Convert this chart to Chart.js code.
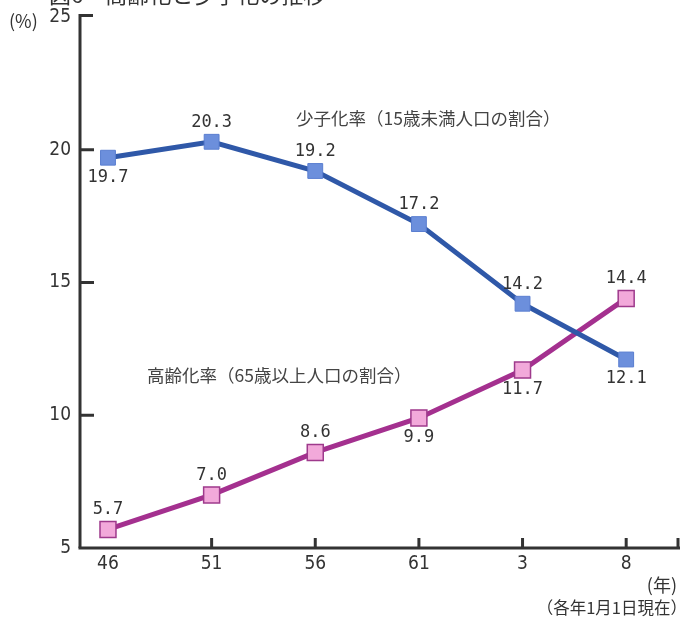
<!DOCTYPE html>
<html lang="ja">
<head>
<meta charset="utf-8">
<script src="https://cdn.jsdelivr.net/npm/chart.js@4.4.1/dist/chart.umd.min.js"></script>
<style>
  html, body { margin: 0; padding: 0; background: #fff; }
  #wrap { position: relative; width: 680px; height: 620px; }
</style>
</head>
<body>
<div id="wrap"><canvas id="c" width="680" height="620"></canvas></div>
<script>
// 年次（昭和46年〜平成8年）
const years = ['46', '51', '56', '61', '3', '8'];
// 少子化率（15歳未満人口の割合, %）
const childRate = [19.7, 20.3, 19.2, 17.2, 14.2, 12.1];
// 高齢化率（65歳以上人口の割合, %）
const elderRate = [5.7, 7.0, 8.6, 9.9, 11.7, 14.4];
// 縦軸目盛
const yTicks = [5, 10, 15, 20, 25];

const titleText = '図6・高齢化と少子化の推移';
const childLabel = '少子化率（15歳未満人口の割合）';
const elderLabel = '高齢化率（65歳以上人口の割合）';

// 値ラベルの上下配置
const childLabelPos = ['below', 'above', 'above', 'above', 'above', 'below'];
const elderLabelPos = ['above', 'above', 'above', 'below', 'below', 'above'];

const INK = '#333';
const NUM_FONT = '17px "DejaVu Sans Mono", "Liberation Mono", monospace';
const AXIS_FONT = { family: '"DejaVu Sans Condensed", "Liberation Sans Narrow", "Roboto", sans-serif', size: 19 };
const JP_FONT = '17.5px "Noto Sans CJK JP", sans-serif';

const toPts = arr => arr.map((v, i) => ({ x: i, y: v }));

// 軸線・内向き目盛・注記の描画
const decor = {
  id: 'decor',
  beforeDatasetsDraw(chart) {
    const { ctx, chartArea: a, scales: { x, y } } = chart;
    ctx.save();
    ctx.strokeStyle = INK;
    ctx.lineWidth = 3;
    ctx.lineCap = 'butt';
    // 縦軸
    ctx.beginPath();
    ctx.moveTo(a.left, a.bottom);
    ctx.lineTo(a.left, a.top - 1.5);
    ctx.lineTo(a.left + 13, a.top - 1.5);
    ctx.stroke();
    // 横軸
    ctx.beginPath();
    ctx.moveTo(a.left - 1.5, a.bottom);
    ctx.lineTo(680, a.bottom);
    ctx.stroke();
    // 縦軸目盛（内向き）
    yTicks.slice(1, -1).forEach(v => {
      const py = y.getPixelForValue(v);
      ctx.beginPath();
      ctx.moveTo(a.left, py);
      ctx.lineTo(a.left + 14, py);
      ctx.stroke();
    });
    // 横軸目盛（内向き）
    const xt = years.map((_, i) => i).slice(1).concat([x.max]);
    xt.forEach(v => {
      const px = x.getPixelForValue(v);
      ctx.beginPath();
      ctx.moveTo(px, a.bottom);
      ctx.lineTo(px, a.bottom - 10);
      ctx.stroke();
    });
    ctx.restore();
  },
  afterDraw(chart) {
    const { ctx } = chart;
    ctx.save();
    ctx.fillStyle = INK;
    // 表題
    ctx.font = '22px "Noto Sans CJK JP", sans-serif';
    ctx.textAlign = 'left';
    ctx.textBaseline = 'alphabetic';
    ctx.fillText(titleText, 49, 3);
    // 単位
    ctx.font = '18px "Noto Sans CJK JP", sans-serif';
    ctx.textBaseline = 'middle';
    ctx.fillText('(%)', 9, 21);
    ctx.textAlign = 'right';
    ctx.fillText('(年)', 677, 585);
    ctx.font = '16.5px "Noto Sans CJK JP", sans-serif';
    ctx.fillText('（各年1月1日現在）', 687, 608);
    // 系列名
    ctx.textAlign = 'left';
    ctx.fillStyle = '#444';
    ctx.font = JP_FONT;
    ctx.fillText(childLabel, 296, 118);
    ctx.fillText(elderLabel, 147, 375);
    // 値ラベル
    ctx.fillStyle = INK;
    ctx.font = NUM_FONT;
    ctx.textAlign = 'center';
    const pos = [childLabelPos, elderLabelPos];
    chart.data.datasets.forEach((ds, di) => {
      const meta = chart.getDatasetMeta(di);
      meta.data.forEach((pt, i) => {
        const up = pos[di][i] === 'above';
        ctx.textBaseline = up ? 'bottom' : 'top';
        ctx.fillText(ds.data[i].y.toFixed(1), pt.x, up ? pt.y - 11 : pt.y + 11);
      });
    });
    ctx.restore();
  }
};

new Chart(document.getElementById('c'), {
  type: 'line',
  data: {
    datasets: [
      {
        label: childLabel,
        data: toPts(childRate),
        borderColor: '#2F58A8',
        borderWidth: 5,
        pointStyle: 'rect',
        pointRadius: 10.5,
        pointBackgroundColor: '#6C8FDC',
        pointBorderColor: '#5A7ED0',
        pointBorderWidth: 1,
        tension: 0
      },
      {
        label: elderLabel,
        data: toPts(elderRate),
        borderColor: '#A4308F',
        borderWidth: 5,
        pointStyle: 'rect',
        pointRadius: 11.3,
        pointBackgroundColor: '#F2A9DA',
        pointBorderColor: '#9E3A8C',
        pointBorderWidth: 1.5,
        tension: 0
      }
    ]
  },
  options: {
    responsive: false,
    animation: false,
    events: [],
    layout: { autoPadding: false, padding: { top: 17, right: 2, left: 0, bottom: 0 } },
    plugins: { legend: { display: false }, tooltip: { enabled: false } },
    scales: {
      x: {
        type: 'linear',
        min: -0.27,
        max: 5.5,
        grid: { display: false, drawTicks: false },
        border: { display: false },
        afterBuildTicks: s => { s.ticks = years.map((_, i) => ({ value: i })); },
        afterFit: s => { s.height = 72; s.paddingLeft = 0; s.paddingRight = 0; },
        ticks: {
          padding: 5,
          color: INK,
          font: AXIS_FONT,
          autoSkip: false,
          maxRotation: 0,
          callback: v => years[v]
        }
      },
      y: {
        min: 5,
        max: 25,
        grid: { display: false, drawTicks: false },
        border: { display: false },
        afterBuildTicks: s => { s.ticks = yTicks.map(v => ({ value: v })); },
        afterFit: s => { s.width = 80; s.paddingTop = 0; s.paddingBottom = 0; },
        ticks: {
          padding: 9,
          color: INK,
          font: AXIS_FONT
        }
      }
    }
  },
  plugins: [decor]
});
</script>
</body>
</html>
